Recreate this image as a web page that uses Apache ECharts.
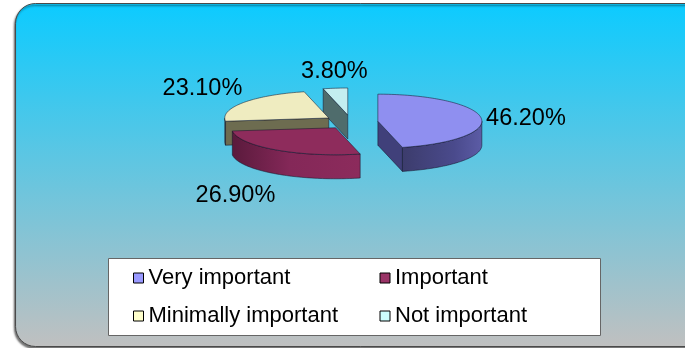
<!DOCTYPE html>
<html>
<head>
<meta charset="utf-8">
<script src="https://cdn.jsdelivr.net/npm/echarts@6/dist/echarts.min.js"></script>
<style>
  html, body { margin: 0; padding: 0; background: #ffffff; }
  #chart { width: 685px; height: 348px; }
</style>
</head>
<body>
<div id="chart"></div>
<script>
// Survey answers: share of respondents per importance rating (percent)
const categories = ['Very important', 'Important', 'Minimally important', 'Not important'];
const shares = [46.2, 26.9, 23.1, 3.8];

// Colours for each slice: top face, side walls, legend swatch
const topColors   = ['#8f8ff0', '#8e2c5c', '#efecc0', '#c3eef0'];
const cutColors   = ['#40407a', '#5e1c40', '#6d6c50', '#4f6c6c'];
const wallStops   = [
  [['#5c5ca6', 0], ['#4a4a8c', 0.35], ['#3c3c6c', 1]],
  [['#8c2b5c', 0], ['#842858', 0.55], ['#5a1a3c', 1]],
  [['#7a7858', 0], ['#5e5d44', 1]],
  [['#6a8c8c', 0], ['#4f6c6c', 1]]
];
const swatchColors = ['#9999ff', '#993366', '#ffffcc', '#ccffff'];

// Layout of the tilted, exploded pie
const PIE = { cx: 351, cy: 122, rx: 104, ry: 27, depth: 24, explode: 0.26 };
const FONT = 'Liberation Sans, Arial, sans-serif';

const total = shares.reduce((a, b) => a + b, 0);

function dir(a) {
  const r = a * Math.PI / 180;
  return [Math.sin(r), -Math.cos(r)];
}

function arcPoints(c, a1, a2, dy) {
  const pts = [];
  const n = Math.max(2, Math.ceil((a2 - a1) / 1.5));
  for (let i = 0; i <= n; i++) {
    const d = dir(a1 + (a2 - a1) * i / n);
    pts.push([c[0] + PIE.rx * d[0], c[1] + PIE.ry * d[1] + dy]);
  }
  return pts;
}

function makeRenderItem(idx) {
  return function (params, api) {
    const value = api.value(0);
    let before = 0;
    for (let i = 0; i < idx; i++) before += shares[i];
    const start = before / total * 360;
    const end = start + value / total * 360;
    const mid = (start + end) / 2;
    const md = dir(mid);
    const c = [PIE.cx + PIE.explode * PIE.rx * md[0], PIE.cy + PIE.explode * PIE.ry * md[1]];
    const D = PIE.depth;
    const depthOrder = Math.round(50 + 40 * md[1]) * 10;
    const edge = { stroke: 'rgba(20,20,40,0.75)', lineWidth: 0.7 };
    const children = [];

    const rimAt = a => { const d = dir(a); return [c[0] + PIE.rx * d[0], c[1] + PIE.ry * d[1]]; };
    const down = p => [p[0], p[1] + D];

    // radial cut faces that turn toward the viewer
    const sStart = Math.sin(start * Math.PI / 180);
    const sEnd = Math.sin(end * Math.PI / 180);
    if (sStart < -1e-6) {
      const r = rimAt(start);
      children.push({ type: 'polygon', z2: depthOrder, shape: { points: [c, r, down(r), down(c)] },
        style: Object.assign({ fill: cutColors[idx] }, edge) });
    }
    if (sEnd > 1e-6) {
      const r = rimAt(end);
      children.push({ type: 'polygon', z2: depthOrder, shape: { points: [c, r, down(r), down(c)] },
        style: Object.assign({ fill: cutColors[idx] }, edge) });
    }

    // curved outer wall on the front half
    const lo = Math.max(start, 90), hi = Math.min(end, 270);
    if (hi > lo) {
      const topArc = arcPoints(c, lo, hi, 0);
      const botArc = arcPoints(c, lo, hi, D).reverse();
      const xs = topArc.map(p => p[0]);
      const leftToRight = xs[0] < xs[xs.length - 1];
      const stops = wallStops[idx].map(s => ({ offset: s[1], color: s[0] }));
      children.push({ type: 'polygon', z2: depthOrder + 1, shape: { points: topArc.concat(botArc) },
        style: Object.assign({
          fill: new echarts.graphic.LinearGradient(leftToRight ? 0 : 1, 0, leftToRight ? 1 : 0, 0, stops)
        }, edge) });
    }

    // top face
    children.push({ type: 'polygon', z2: depthOrder + 2,
      shape: { points: [c].concat(arcPoints(c, start, end, 0)) },
      style: Object.assign({ fill: topColors[idx] }, edge) });

    // value label beside the slice
    const anchor = rimAt(mid);
    let lx = anchor[0], ly = anchor[1], align = 'center';
    if (md[0] > 0.3) { align = 'left'; lx += 5; }
    else if (md[0] < -0.3) { align = 'right'; lx -= 1; }
    else { lx -= 1; }
    const cosm = -md[1];
    if (cosm > 0.3) ly -= 10 + 7 * cosm;
    else if (cosm < -0.3) ly += D + 22;
    else ly += 1;
    children.push({ type: 'text', z2: 2000, x: lx, y: ly,
      style: { text: value.toFixed(2) + '%', fill: '#000', font: '23.5px ' + FONT,
               align: align, verticalAlign: 'middle' } });

    return { type: 'group', children: children };
  };
}

const series = categories.map((name, i) => ({
  type: 'custom',
  name: name,
  coordinateSystem: 'none',
  itemStyle: { color: swatchColors[i] },
  data: [[shares[i]]],
  renderItem: makeRenderItem(i),
  silent: true
}));

const chart = echarts.init(document.getElementById('chart'), null, { renderer: 'canvas' });
chart.setOption({
  animation: false,
  backgroundColor: '#ffffff',
  graphic: [
    {
      type: 'rect', z: 0, left: 15, top: 3,
      shape: { width: 700, height: 343, r: 20 },
      style: {
        fill: new echarts.graphic.LinearGradient(0, 0, 0, 1, [
          { offset: 0, color: '#0ccbff' },
          { offset: 1, color: '#c0c0c0' }
        ]),
        stroke: '#4a4a4a', lineWidth: 1,
        shadowColor: 'rgba(0,0,0,0.55)', shadowBlur: 2, shadowOffsetX: -1, shadowOffsetY: 2
      }
    },
    {
      type: 'rect', z: 1, left: 108, top: 258,
      shape: { width: 492, height: 77 },
      style: { fill: '#ffffff', stroke: '#666666', lineWidth: 1 }
    }
  ],
  legend: {
    left: 133, top: 267, width: 485,
    padding: 0,
    itemWidth: 10, itemHeight: 10, itemGap: 16,
    icon: 'rect',
    selectedMode: false,
    itemStyle: { borderColor: '#000000', borderWidth: 1 },
    formatter: '{a|{name}}',
    textStyle: {
      color: '#000', fontFamily: FONT, fontSize: 22,
      rich: { a: { width: 215, fontSize: 22, fontFamily: FONT, color: '#000', lineHeight: 22 } }
    },
    data: categories
  },
  series: series
});
</script>
</body>
</html>
